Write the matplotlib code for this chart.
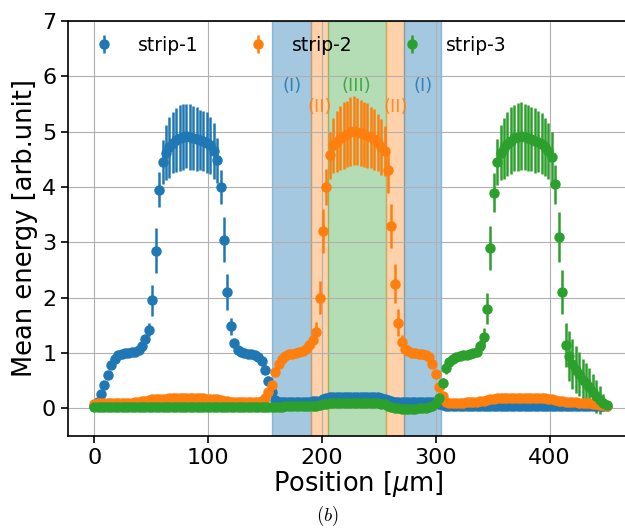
import numpy as np
import matplotlib
matplotlib.use("Agg")
import matplotlib.pyplot as plt

plt.rcParams['mathtext.fontset'] = 'dejavusans'

# position grid of the scan [um]
position = np.arange(0, 451, 3)

strip1 = [
    0.05, 0.12, 0.25, 0.42, 0.60, 0.78, 0.90, 0.96, 0.99, 1.00,
    1.00, 1.01, 1.02, 1.05, 1.12, 1.25, 1.42, 1.95, 2.85, 3.95,
    4.45, 4.62, 4.72, 4.80, 4.85, 4.88, 4.90, 4.92, 4.90, 4.88,
    4.86, 4.85, 4.83, 4.80, 4.75, 4.65, 4.48, 4.00, 3.05, 2.10,
    1.48, 1.18, 1.06, 1.02, 1.00, 0.99, 0.98, 0.96, 0.92, 0.85,
    0.70, 0.50, 0.30, 0.15, 0.11, 0.11, 0.12, 0.12, 0.12, 0.12,
    0.12, 0.12, 0.12, 0.12, 0.13, 0.13, 0.14, 0.17, 0.19, 0.20,
    0.20, 0.20, 0.20, 0.20, 0.20, 0.20, 0.20, 0.20, 0.20, 0.20,
    0.20, 0.20, 0.20, 0.20, 0.19, 0.17, 0.15, 0.13, 0.12, 0.12,
    0.12, 0.12, 0.12, 0.11, 0.11, 0.11, 0.11, 0.11, 0.11, 0.11,
    0.10, 0.08, 0.06, 0.05, 0.05, 0.05, 0.05, 0.05, 0.05, 0.05,
    0.05, 0.05, 0.05, 0.05, 0.04, 0.04, 0.04, 0.04, 0.04, 0.04,
    0.04, 0.04, 0.04, 0.04, 0.04, 0.04, 0.04, 0.04, 0.04, 0.04,
    0.04, 0.04, 0.04, 0.04, 0.04, 0.04, 0.04, 0.04, 0.04, 0.04,
    0.04, 0.04, 0.04, 0.04, 0.04, 0.04, 0.04, 0.04, 0.04, 0.04,
    0.04,
]
strip1_err = [
    0.02, 0.03, 0.04, 0.05, 0.05, 0.05, 0.05, 0.04, 0.04, 0.04,
    0.04, 0.04, 0.04, 0.05, 0.06, 0.08, 0.12, 0.28, 0.40, 0.32,
    0.40, 0.50, 0.55, 0.55, 0.58, 0.60, 0.60, 0.58, 0.60, 0.58,
    0.58, 0.55, 0.55, 0.55, 0.52, 0.50, 0.40, 0.30, 0.40, 0.32,
    0.15, 0.08, 0.05, 0.04, 0.04, 0.04, 0.04, 0.04, 0.05, 0.06,
    0.08, 0.08, 0.06, 0.04, 0.02, 0.02, 0.02, 0.02, 0.02, 0.02,
    0.02, 0.02, 0.02, 0.02, 0.02, 0.02, 0.02, 0.02, 0.02, 0.02,
    0.02, 0.02, 0.02, 0.02, 0.02, 0.02, 0.02, 0.02, 0.02, 0.02,
    0.02, 0.02, 0.02, 0.02, 0.02, 0.02, 0.02, 0.02, 0.02, 0.02,
    0.02, 0.02, 0.02, 0.02, 0.02, 0.02, 0.02, 0.02, 0.02, 0.02,
    0.02, 0.02, 0.02, 0.02, 0.02, 0.02, 0.02, 0.02, 0.02, 0.02,
    0.02, 0.02, 0.02, 0.02, 0.02, 0.02, 0.02, 0.02, 0.02, 0.02,
    0.02, 0.02, 0.02, 0.02, 0.02, 0.02, 0.02, 0.02, 0.02, 0.02,
    0.02, 0.02, 0.02, 0.02, 0.02, 0.02, 0.02, 0.02, 0.02, 0.02,
    0.02, 0.02, 0.02, 0.02, 0.02, 0.02, 0.02, 0.02, 0.02, 0.02,
    0.02,
]

strip2 = [
    0.08, 0.09, 0.10, 0.10, 0.10, 0.10, 0.10, 0.10, 0.10, 0.10,
    0.10, 0.10, 0.11, 0.12, 0.13, 0.14, 0.15, 0.16, 0.17, 0.17,
    0.17, 0.17, 0.18, 0.18, 0.18, 0.18, 0.18, 0.18, 0.18, 0.18,
    0.18, 0.18, 0.18, 0.17, 0.17, 0.17, 0.16, 0.15, 0.14, 0.13,
    0.12, 0.12, 0.12, 0.12, 0.12, 0.12, 0.12, 0.12, 0.12, 0.13,
    0.18, 0.30, 0.42, 0.65, 0.80, 0.90, 0.95, 0.98, 0.99, 1.00,
    1.02, 1.04, 1.08, 1.15, 1.23, 1.38, 2.00, 3.20, 4.00, 4.57,
    4.75, 4.82, 4.88, 4.93, 4.96, 5.00, 5.02, 5.00, 4.98, 4.95,
    4.93, 4.90, 4.86, 4.80, 4.72, 4.65, 4.30, 3.30, 2.25, 1.55,
    1.20, 1.08, 1.03, 1.00, 1.00, 0.99, 0.98, 0.96, 0.93, 0.80,
    0.62, 0.38, 0.22, 0.12, 0.10, 0.10, 0.10, 0.10, 0.10, 0.11,
    0.11, 0.12, 0.12, 0.13, 0.14, 0.15, 0.16, 0.17, 0.18, 0.18,
    0.18, 0.18, 0.18, 0.18, 0.18, 0.18, 0.18, 0.18, 0.18, 0.18,
    0.18, 0.18, 0.18, 0.17, 0.16, 0.15, 0.14, 0.13, 0.12, 0.12,
    0.11, 0.11, 0.10, 0.10, 0.10, 0.09, 0.08, 0.07, 0.06, 0.06,
    0.05,
]
strip2_err = [
    0.02, 0.02, 0.02, 0.02, 0.02, 0.02, 0.02, 0.02, 0.02, 0.02,
    0.02, 0.02, 0.02, 0.02, 0.02, 0.02, 0.02, 0.02, 0.02, 0.02,
    0.02, 0.02, 0.02, 0.02, 0.02, 0.02, 0.02, 0.02, 0.02, 0.02,
    0.02, 0.02, 0.02, 0.02, 0.02, 0.02, 0.02, 0.02, 0.02, 0.02,
    0.02, 0.02, 0.02, 0.02, 0.02, 0.02, 0.02, 0.02, 0.02, 0.03,
    0.05, 0.08, 0.08, 0.07, 0.06, 0.05, 0.05, 0.04, 0.04, 0.04,
    0.04, 0.05, 0.06, 0.08, 0.12, 0.18, 0.30, 0.40, 0.32, 0.42,
    0.50, 0.55, 0.58, 0.60, 0.60, 0.62, 0.62, 0.60, 0.60, 0.58,
    0.58, 0.55, 0.55, 0.52, 0.50, 0.45, 0.40, 0.40, 0.35, 0.25,
    0.12, 0.06, 0.05, 0.04, 0.04, 0.04, 0.04, 0.05, 0.06, 0.07,
    0.08, 0.08, 0.06, 0.03, 0.02, 0.02, 0.02, 0.02, 0.02, 0.02,
    0.02, 0.02, 0.02, 0.02, 0.02, 0.02, 0.02, 0.02, 0.02, 0.02,
    0.02, 0.02, 0.02, 0.02, 0.02, 0.02, 0.02, 0.02, 0.02, 0.02,
    0.02, 0.02, 0.02, 0.02, 0.02, 0.02, 0.02, 0.02, 0.02, 0.02,
    0.02, 0.02, 0.02, 0.02, 0.02, 0.02, 0.02, 0.02, 0.02, 0.02,
    0.02,
]

strip3 = [
    0.02, 0.02, 0.02, 0.02, 0.02, 0.02, 0.02, 0.02, 0.02, 0.02,
    0.02, 0.02, 0.02, 0.02, 0.02, 0.02, 0.02, 0.02, 0.02, 0.02,
    0.02, 0.02, 0.02, 0.02, 0.02, 0.02, 0.02, 0.02, 0.02, 0.02,
    0.02, 0.02, 0.02, 0.02, 0.02, 0.02, 0.02, 0.02, 0.02, 0.02,
    0.02, 0.02, 0.02, 0.02, 0.02, 0.02, 0.02, 0.02, 0.02, 0.02,
    0.02, 0.02, 0.03, 0.03, 0.03, 0.03, 0.04, 0.04, 0.04, 0.04,
    0.04, 0.04, 0.05, 0.05, 0.05, 0.05, 0.06, 0.07, 0.08, 0.09,
    0.09, 0.09, 0.09, 0.09, 0.09, 0.09, 0.09, 0.09, 0.09, 0.09,
    0.09, 0.09, 0.09, 0.09, 0.08, 0.07, 0.05, 0.03, 0.01, 0.00,
    -0.01, -0.01, -0.01, -0.01, -0.01, 0.00, 0.00, 0.01, 0.02, 0.05,
    0.10, 0.18, 0.45, 0.72, 0.84, 0.89, 0.92, 0.94, 0.96, 0.97,
    0.98, 1.00, 1.02, 1.12, 1.28, 1.80, 2.90, 3.90, 4.45, 4.62,
    4.70, 4.78, 4.84, 4.88, 4.90, 4.92, 4.90, 4.88, 4.86, 4.84,
    4.82, 4.78, 4.72, 4.65, 4.55, 4.05, 3.10, 2.10, 1.15, 0.95,
    0.80, 0.70, 0.62, 0.52, 0.45, 0.38, 0.30, 0.22, 0.15, 0.10,
    0.06,
]
strip3_err = [
    0.02, 0.02, 0.02, 0.02, 0.02, 0.02, 0.02, 0.02, 0.02, 0.02,
    0.02, 0.02, 0.02, 0.02, 0.02, 0.02, 0.02, 0.02, 0.02, 0.02,
    0.02, 0.02, 0.02, 0.02, 0.02, 0.02, 0.02, 0.02, 0.02, 0.02,
    0.02, 0.02, 0.02, 0.02, 0.02, 0.02, 0.02, 0.02, 0.02, 0.02,
    0.02, 0.02, 0.02, 0.02, 0.02, 0.02, 0.02, 0.02, 0.02, 0.02,
    0.02, 0.02, 0.02, 0.02, 0.02, 0.02, 0.02, 0.02, 0.02, 0.02,
    0.02, 0.02, 0.02, 0.02, 0.02, 0.02, 0.02, 0.02, 0.02, 0.02,
    0.02, 0.02, 0.02, 0.02, 0.02, 0.02, 0.02, 0.02, 0.02, 0.02,
    0.02, 0.02, 0.02, 0.02, 0.02, 0.02, 0.02, 0.02, 0.02, 0.02,
    0.02, 0.02, 0.02, 0.02, 0.02, 0.02, 0.02, 0.02, 0.03, 0.05,
    0.06, 0.08, 0.10, 0.10, 0.08, 0.06, 0.05, 0.05, 0.05, 0.05,
    0.05, 0.06, 0.08, 0.12, 0.18, 0.28, 0.40, 0.35, 0.42, 0.50,
    0.55, 0.58, 0.60, 0.60, 0.62, 0.62, 0.60, 0.60, 0.58, 0.58,
    0.55, 0.55, 0.52, 0.50, 0.45, 0.35, 0.45, 0.40, 0.40, 0.45,
    0.45, 0.42, 0.40, 0.38, 0.36, 0.34, 0.32, 0.30, 0.25, 0.15,
    0.08,
]

# shaded regions: (start, end, colour, alpha)
regions = [
    (156, 190.5, 'tab:blue', 0.4),
    (190.5, 205.5, 'tab:orange', 0.35),
    (205.5, 256.5, 'tab:green', 0.35),
    (256.5, 272.5, 'tab:orange', 0.35),
    (272.5, 305, 'tab:blue', 0.4),
]
region_labels = [
    (173.5, 5.82, '(I)', 'tab:blue'),
    (230, 5.82, '(III)', 'tab:green'),
    (288.5, 5.82, '(I)', 'tab:blue'),
    (198, 5.45, '(II)', 'tab:orange'),
    (265, 5.45, '(II)', 'tab:orange'),
]

fig = plt.figure(figsize=(6.25, 5.3), dpi=100)
# right spine lies outside the canvas, as in the cropped original
ax = fig.add_axes([0.1088, 0.1774, 0.93, 0.783])

for x0, x1, c, a in regions:
    ax.axvspan(x0, x1, color=c, alpha=a)

ax.errorbar(position, strip1, yerr=strip1_err, fmt='o', ms=6.5, elinewidth=1.8,
            color='tab:blue', label='strip-1')
ax.errorbar(position, strip2, yerr=strip2_err, fmt='o', ms=6.5, elinewidth=1.8,
            color='tab:orange', label='strip-2')
ax.errorbar(position, strip3, yerr=strip3_err, fmt='o', ms=6.5, elinewidth=1.8,
            color='tab:green', label='strip-3')

for x, y, s, c in region_labels:
    ax.text(x, y, s, color=c, fontsize=13, ha='center', va='center', alpha=0.85)

ax.set_xlim(-23, 487.5)
ax.set_ylim(-0.5, 7)
ax.set_xticks([0, 100, 200, 300, 400])
ax.set_yticks(range(0, 8))
ax.grid(True)
ax.tick_params(labelsize=16, width=1.2, length=5)
for sp in ax.spines.values():
    sp.set_linewidth(1.2)

ax.set_xlabel(r'Position [$\mu$m]', fontsize=18.5, labelpad=1)
ax.set_ylabel('Mean energy [arb.unit]', fontsize=18.5, labelpad=3)

ax.legend(loc='center left', bbox_to_anchor=(0.0163, 0.942), borderaxespad=0,
          ncol=3, columnspacing=2.2, frameon=False, fontsize=13.5)

fig.text(0.523, 0.027, r'$(b)$', fontsize=13.5, ha='center', va='center',
         math_fontfamily='cm')

fig.savefig('out.png', dpi=100)
